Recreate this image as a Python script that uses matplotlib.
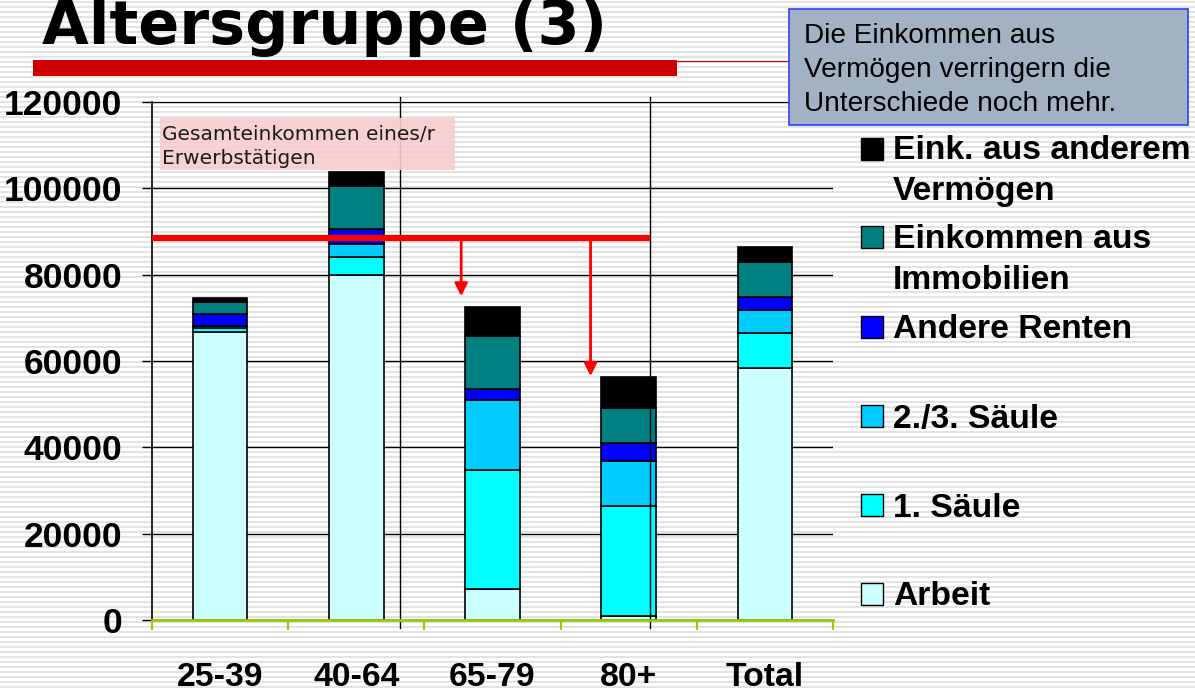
import matplotlib
matplotlib.use("Agg")
import matplotlib.pyplot as plt
from matplotlib.patches import Rectangle
from matplotlib.lines import Line2D

# data
kategorien = ['25-39', '40-64', '65-79', '80+', 'Total']
arbeit = [66800, 80000, 7100, 900, 58300]
saeule_1 = [900, 4000, 27700, 25600, 8300]
saeule_23 = [500, 3200, 16200, 10400, 5200]
andere_renten = [2600, 3300, 2500, 4000, 3000]
immobilien = [2800, 10100, 12300, 8200, 8100]
anderes_vermoegen = [900, 3200, 6800, 7100, 3500]

serien = [arbeit, saeule_1, saeule_23, andere_renten, immobilien, anderes_vermoegen]
farben = ['#CCFFFF', '#00FFFF', '#00CCFF', '#0000FF', '#008080', '#000000']
legende = [['Arbeit'], ['1. Säule'], ['2./3. Säule'], ['Andere Renten'],
           ['Einkommen aus', 'Immobilien'], ['Eink. aus anderem', 'Vermögen']]

gesamt_erwerb = 88500          # rote Linie
pfeile = [(1.77, 75000), (2.72, 56500)]

W, H = 1195, 691
fig = plt.figure(figsize=(W / 100, H / 100), dpi=100)
fig.patch.set_facecolor('white')

def fx(px):
    return px / W

def fy(py):
    return 1 - py / H

# striped slide background
bg = fig.add_axes([0, 0, 1, 1], zorder=-10)
bg.set_xlim(0, W)
bg.set_ylim(H, 0)
bg.hlines(range(2, H, 5), 0, W, color='#E3E3E3', lw=1.4)
bg.axis('off')

# title + red bar
fig.text(fx(42), fy(44), 'Altersgruppe (3)', fontsize=43.5, fontweight='bold',
         family='DejaVu Sans', va='baseline', ha='left')
fig.patches.append(Rectangle((fx(33), fy(76)), fx(677) - fx(33), fy(60) - fy(76),
                             transform=fig.transFigure, facecolor='#CC0000', edgecolor='none'))
fig.add_artist(Line2D([fx(677), fx(789)], [fy(60.5), fy(60.5)], color='#CC0000', lw=0.8))

# chart
ax = fig.add_axes([fx(152), fy(620), fx(833) - fx(152), fy(102) - fy(620)])
ax.patch.set_alpha(0)
x = list(range(len(kategorien)))
unten = [0] * len(kategorien)
for werte, farbe in zip(serien, farben):
    ax.bar(x, werte, 0.4, bottom=unten, color=farbe, edgecolor='black', lw=1.2, zorder=3)
    unten = [u + w for u, w in zip(unten, werte)]

ax.set_xlim(-0.5, 4.5)
ax.set_ylim(0, 120000)
ax.set_yticks(range(0, 120001, 20000))
ax.set_yticklabels([str(v) for v in range(0, 120001, 20000)])
ax.yaxis.grid(True, color='black', lw=1)
ax.set_axisbelow(True)
ax.set_xticks(x)
ax.set_xticklabels(kategorien)
ax.set_xticks([i - 0.5 for i in range(len(kategorien) + 1)], minor=True)
ax.tick_params(axis='x', which='major', length=0, pad=30)
ax.tick_params(axis='x', which='minor', length=7.5, width=1.5, color='#99CC00', direction='out')
ax.tick_params(axis='y', length=7.5, width=1, color='black', pad=14)
for lab in ax.get_xticklabels():
    lab.set_family('Liberation Sans')
    lab.set_fontweight('bold')
    lab.set_fontsize(24.3)
for lab in ax.get_yticklabels():
    lab.set_family('Liberation Sans')
    lab.set_fontweight('bold')
    lab.set_fontsize(25.5)
for s in ['top', 'right']:
    ax.spines[s].set_visible(False)
ax.spines['left'].set_color('black')
ax.spines['left'].set_linewidth(1.2)
ax.spines['bottom'].set_color('#99CC00')
ax.spines['bottom'].set_linewidth(2)
ax.spines['bottom'].set_zorder(4)

# stray vertical lines of the slide
for vx in [1.32, 3.16]:
    ax.plot([vx, vx], [-1900, 121200], color='black', lw=1, clip_on=False, zorder=4)

# red reference line and arrows
ax.hlines(gesamt_erwerb, -0.5, 3.16, color='#FF0000', lw=4.5, zorder=5)
for px_, py_ in pfeile:
    ax.annotate('', xy=(px_, py_), xytext=(px_, gesamt_erwerb),
                arrowprops=dict(arrowstyle='-|>', color='#FF0000', lw=2, mutation_scale=19,
                                shrinkA=0, shrinkB=0), zorder=5)

# pink label box
fig.patches.append(Rectangle((fx(160), fy(170)), fx(455) - fx(160), fy(118) - fy(170),
                             transform=fig.transFigure, facecolor='#F8CDCD', edgecolor='none',
                             alpha=0.9, zorder=1))
fig.text(fx(162), fy(140), 'Gesamteinkommen eines/r', fontsize=14.5, family='DejaVu Sans',
         color='#1a1a1a', va='baseline', zorder=2)
fig.text(fx(162), fy(164), 'Erwerbstätigen', fontsize=14.5, family='DejaVu Sans',
         color='#1a1a1a', va='baseline', zorder=2)

# note box
fig.patches.append(Rectangle((fx(789), fy(125)), fx(1188) - fx(789), fy(9) - fy(125),
                             transform=fig.transFigure, facecolor='#A3B2C3', edgecolor='#2E3DFF',
                             lw=1.2, zorder=6))
for zeile, by in zip(['Die Einkommen aus', 'Vermögen verringern die', 'Unterschiede noch mehr.'],
                     [43, 77, 111]):
    fig.text(fx(804), fy(by), zeile, fontsize=20.2, family='Liberation Sans', va='baseline', zorder=7)

# legend (drawn by hand, slide spacing is irregular)
quadrat_y = [594, 505, 416, 327, 237, 149]
text_y = [[605], [517], [428], [338], [248, 289], [159, 200]]
for farbe, zeilen, qy, tys in zip(farben, legende, quadrat_y, text_y):
    fig.patches.append(Rectangle((fx(861), fy(qy + 11)), fx(22), 22 / H,
                                 transform=fig.transFigure, facecolor=farbe,
                                 edgecolor='black', lw=1))
    for zeile, ty in zip(zeilen, tys):
        fig.text(fx(893), fy(ty), zeile, fontsize=24.2, fontweight='bold',
                 family='Liberation Sans', va='baseline')

fig.savefig('out.png', dpi=100)
